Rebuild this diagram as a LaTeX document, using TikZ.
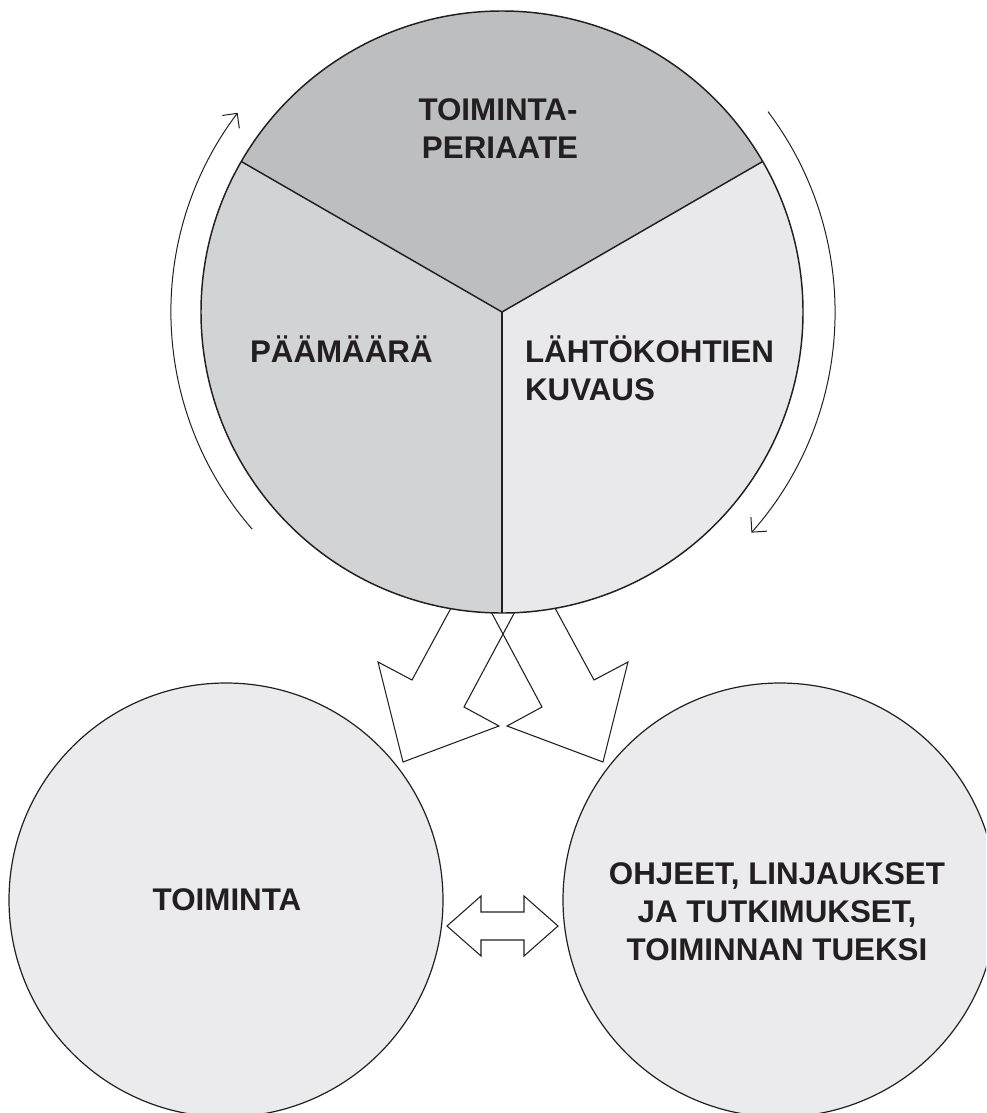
\documentclass[tikz,border=0pt]{standalone}
\usepackage{fontspec}
\setmainfont{Liberation Sans}
\usetikzlibrary{arrows.meta}
\definecolor{topgray}{HTML}{BCBEC0}
\definecolor{leftgray}{HTML}{D1D3D4}
\definecolor{rightgray}{HTML}{E9E9EB}
\definecolor{circgray}{HTML}{EBEBED}
\definecolor{ink}{HTML}{231F20}
\begin{document}
\begin{tikzpicture}[x=0.75pt,y=-0.75pt,
  lbl/.style={font=\fontsize{23.5}{28.5}\selectfont\bfseries, text=ink, inner sep=0pt, outer sep=0pt},
  sector/.style={draw=ink, line width=1.1pt, line join=round},
  bubble/.style={circle, draw=ink, fill=circgray, line width=0.9pt, minimum size=325.5pt, inner sep=0pt},
  blockarrow/.style={draw=ink, line width=0.8pt, line join=miter},
  cyclearrow/.style={draw=ink, line width=0.75pt, -{Straight Barb[length=8pt,width=16pt]}}]
\useasboundingbox (0,0) rectangle (986,1113);
\clip (0,0) rectangle (986,1113);

\coordinate (C) at (502,312);

% block arrows from the pie to the two circles (drawn under the pie)
\draw[blockarrow] (470,573) -- (412,680) -- (378,662) -- (403,762) -- (499,726) -- (464,707) -- (533,578);
\draw[blockarrow] (536,573) -- (594,680) -- (628,662) -- (603,762) -- (507,726) -- (542,707) -- (473,578);

% pie sectors
\fill[topgray] (C) -- ++(210:301) arc[start angle=210,end angle=330,radius=301] -- cycle;
\fill[leftgray] (C) -- ++(90:301) arc[start angle=90,end angle=210,radius=301] -- cycle;
\fill[rightgray] (C) -- ++(330:301) arc[start angle=330,end angle=450,radius=301] -- cycle;
\node[circle, draw=ink, line width=1.1pt, minimum size=451.5pt, inner sep=0pt] (pie) at (C) {};
\draw[sector] (C) -- ++(90:301);
\draw[sector] (C) -- ++(210:301);
\draw[sector] (C) -- ++(330:301);

% cycle arrows
\draw[cyclearrow] (C) ++(139:331) arc[start angle=139,end angle=217,radius=331];
\draw[cyclearrow] (C) ++(-37:333) arc[start angle=-37,end angle=41.5,radius=333];

% bottom circles
\node[bubble] (act) at (226,900) {};
\node[bubble] (guide) at (780,900) {};

% double arrow
\draw[blockarrow] (447,926) -- (481,896) -- (481,912) -- (524,912) -- (524,896) -- (558,926)
  -- (524,956) -- (524,940) -- (481,940) -- (481,956) -- cycle;

% labels
\node[lbl, anchor=base] (tp1) at (498,120) {TOIMINTA-};
\node[lbl, anchor=base] (tp2) at (500,158) {PERIAATE};
\node[lbl, anchor=base west] (pm) at (250,362) {PÄÄMÄÄRÄ};
\node[lbl, anchor=base west] (lk1) at (525,362) {LÄHTÖKOHTIEN};
\node[lbl, anchor=base west] (lk2) at (525,400) {KUVAUS};
\node[lbl, anchor=base] (tm) at (227,910) {TOIMINTA};
\node[lbl, anchor=base] (oh1) at (777,884) {OHJEET, LINJAUKSET};
\node[lbl, anchor=base] (oh2) at (777,922) {JA TUTKIMUKSET,};
\node[lbl, anchor=base] (oh3) at (777,960) {TOIMINNAN TUEKSI};
\end{tikzpicture}
\end{document}
